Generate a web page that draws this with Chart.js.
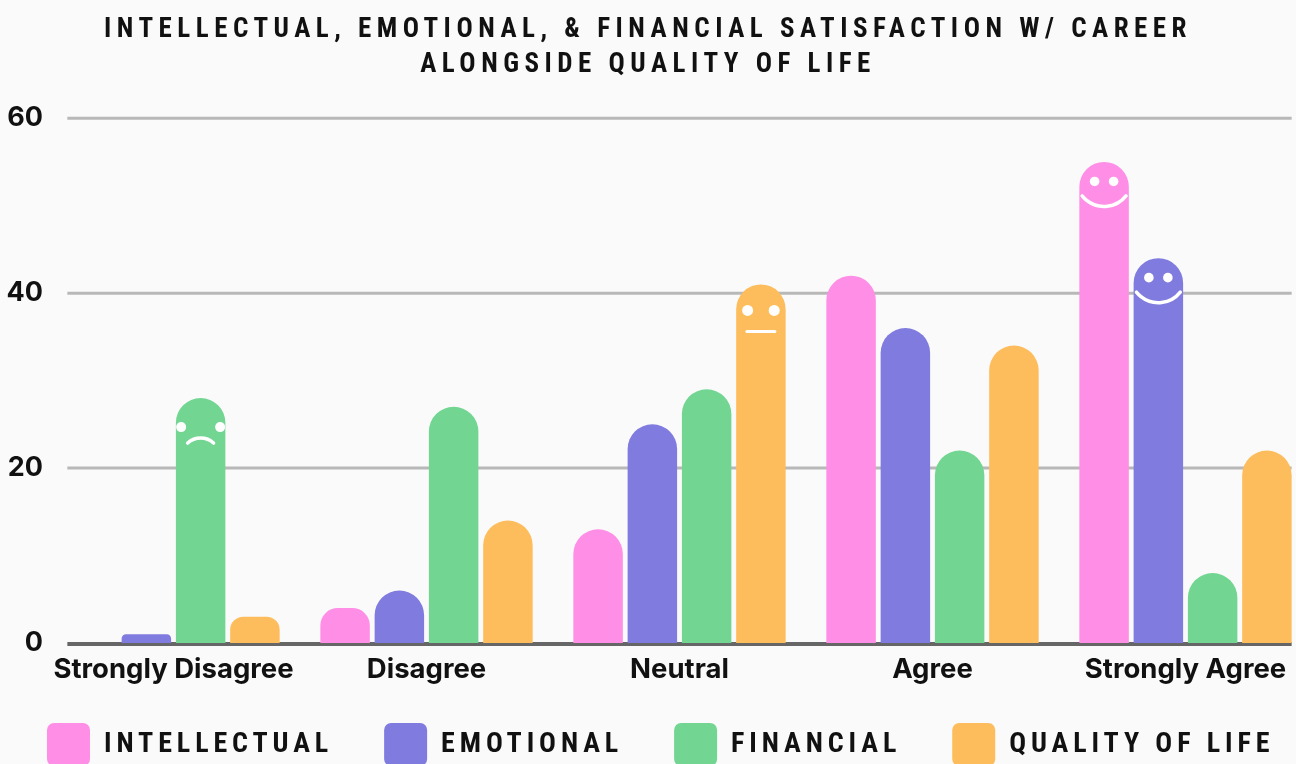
<!DOCTYPE html>
<html>
<head>
<meta charset="utf-8">
<title>Satisfaction w/ Career alongside Quality of Life</title>
<script src="https://cdn.jsdelivr.net/npm/chart.js@4.4.1/dist/chart.umd.min.js"></script>
<style>
  html, body { margin: 0; padding: 0; background: #fafafa; overflow: hidden; }
  #wrap { position: absolute; left: -16px; top: 0; width: 1328px; height: 790px; }
</style>
</head>
<body>
<div id="wrap"><canvas id="chart" width="1328" height="790"></canvas></div>
<script>
const categories = ['Strongly Disagree', 'Disagree', 'Neutral', 'Agree', 'Strongly Agree'];
const seriesNames = ['INTELLECTUAL', 'EMOTIONAL', 'FINANCIAL', 'QUALITY OF LIFE'];
const intellectual = [0, 4, 13, 42, 55];
const emotional = [1, 6, 25, 36, 44];
const financial = [28, 27, 29, 22, 8];
const qualityOfLife = [3, 14, 41, 34, 22];
const yTicks = [0, 20, 40, 60];

const colors = ['#ff8fe6', '#807bde', '#72d692', '#febd5c'];
const titleLines = ['INTELLECTUAL, EMOTIONAL, & FINANCIAL SATISFACTION W/ CAREER', 'ALONGSIDE QUALITY OF LIFE'];

// which bars get a little face drawn on top
const faces = [
  { dataset: 2, index: 0, mood: 'sad' },
  { dataset: 3, index: 2, mood: 'meh' },
  { dataset: 0, index: 4, mood: 'happy' },
  { dataset: 1, index: 4, mood: 'happy' },
];

const spacedFont = '"Liberation Sans Narrow", "Roboto Condensed", "Liberation Sans", sans-serif';
const tickFont = 'Inter, "Noto Sans", sans-serif';
const LEGEND_GAP = 51;

// title + legend are letter spaced, ticks are not
function withSpacing(chart, box, spacing, keepOneRow) {
  if (!box) return;
  ['fit', 'draw'].forEach(fn => {
    if (typeof box[fn] !== 'function') return;
    const orig = box[fn].bind(box);
    box[fn] = function (...args) {
      const ctx = chart.ctx;
      const prev = ctx.letterSpacing;
      ctx.letterSpacing = spacing;
      if (fn === 'fit' && keepOneRow) box.maxWidth = 2000; // don't wrap the legend
      const res = orig(...args);
      ctx.letterSpacing = prev;
      return res;
    };
  });
}

const spacedText = {
  id: 'spacedText',
  afterInit(chart) {
    withSpacing(chart, chart.titleBlock, '5.5px', false);
    withSpacing(chart, chart.legend, '4.9px', true);
  },
  // legend: one row starting under the first bar, a bit closer to the axis labels
  afterLayout(chart) {
    const lg = chart.legend;
    lg.top -= 14;
    lg.bottom -= 14;
    lg.left = chart.chartArea.left - LEGEND_GAP;
    lg.right = chart.width + 1000;
  }
};

const background = {
  id: 'background',
  beforeDraw(chart) {
    const ctx = chart.ctx;
    ctx.save();
    ctx.fillStyle = '#fafafa';
    ctx.fillRect(0, 0, chart.width, chart.height);
    ctx.restore();
  }
};

// grid only spans the bars, not the whole category slots
const gridLines = {
  id: 'gridLines',
  beforeDatasetsDraw(chart) {
    const ctx = chart.ctx;
    const yScale = chart.scales.y;
    const first = chart.getDatasetMeta(0).data[0];
    const last = chart.getDatasetMeta(3).data[categories.length - 1];
    const left = first.x - first.width / 2;
    const right = last.x + last.width / 2;
    ctx.save();
    yScale.ticks.forEach(t => {
      const py = yScale.getPixelForValue(t.value);
      ctx.beginPath();
      if (t.value === 0) {
        ctx.strokeStyle = '#666666';
        ctx.lineWidth = 4;
        ctx.moveTo(left, py + 1);
        ctx.lineTo(right, py + 1);
      } else {
        ctx.strokeStyle = '#b8b8b8';
        ctx.lineWidth = 3;
        ctx.moveTo(left, py);
        ctx.lineTo(right, py);
      }
      ctx.stroke();
    });
    ctx.restore();
  }
};

const faceDrawer = {
  id: 'faceDrawer',
  afterDatasetsDraw(chart) {
    const ctx = chart.ctx;
    ctx.save();
    ctx.fillStyle = '#ffffff';
    ctx.strokeStyle = '#ffffff';
    ctx.lineCap = 'round';
    faces.forEach(f => {
      const bar = chart.getDatasetMeta(f.dataset).data[f.index];
      const { x, y } = bar.getProps(['x', 'y'], true);
      const dot = (dx, dy, r) => {
        ctx.beginPath();
        ctx.arc(x + dx, y + dy, r, 0, Math.PI * 2);
        ctx.fill();
      };
      if (f.mood === 'sad') {
        dot(-19.5, 29, 5);
        dot(19.5, 29, 5);
        ctx.lineWidth = 3.5;
        ctx.beginPath();
        ctx.arc(x, y + 40 + 19.4, 19.4, -Math.PI / 2 - 0.73, -Math.PI / 2 + 0.73);
        ctx.stroke();
      } else if (f.mood === 'meh') {
        dot(-13.3, 26, 5.5);
        dot(13.3, 26, 5.5);
        ctx.lineWidth = 3;
        ctx.beginPath();
        ctx.moveTo(x - 14, y + 47);
        ctx.lineTo(x + 14, y + 47);
        ctx.stroke();
      } else {
        dot(-9.5, 19.5, 4.8);
        dot(9.5, 19.5, 4.8);
        ctx.lineWidth = 3.5;
        ctx.beginPath();
        ctx.arc(x, y + 44.5 - 28, 28, Math.PI / 2 - 0.9, Math.PI / 2 + 0.9);
        ctx.stroke();
      }
    });
    ctx.restore();
  }
};

const seriesData = [intellectual, emotional, financial, qualityOfLife];

new Chart(document.getElementById('chart'), {
  type: 'bar',
  data: {
    labels: categories,
    datasets: seriesData.map((data, i) => ({
      label: seriesNames[i],
      data,
      backgroundColor: colors[i],
      borderWidth: 0,
      borderRadius: 25,
      borderSkipped: 'start',
      categoryPercentage: 0.858,
      barPercentage: 0.912,
    })),
  },
  options: {
    responsive: false,
    animation: false,
    layout: { padding: 0 },
    plugins: {
      title: {
        display: true,
        text: titleLines,
        color: '#111111',
        font: { family: spacedFont, size: 27, weight: 'bold', lineHeight: 1.3 },
        padding: { top: 12.5, bottom: 35.5 },
      },
      legend: {
        position: 'bottom',
        align: 'start',
        labels: {
          color: '#111111',
          font: { family: spacedFont, size: 28, weight: 'bold' },
          boxWidth: 43,
          boxHeight: 43,
          useBorderRadius: true,
          borderRadius: 7,
          padding: LEGEND_GAP,
        },
      },
      tooltip: { enabled: false },
    },
    scales: {
      x: {
        grid: { display: false, drawTicks: false },
        border: { display: false },
        afterFit(scale) {
          scale.height = 43;
        },
        ticks: {
          color: '#111111',
          padding: 10,
          font: { family: tickFont, size: 27.5, weight: 'bold', lineHeight: 1.2 },
        },
      },
      y: {
        min: 0,
        max: 60,
        afterBuildTicks(scale) {
          scale.ticks = yTicks.map(v => ({ value: v }));
        },
        afterFit(scale) {
          scale.width = 63;
        },
        grid: { display: false, drawTicks: false },
        border: { display: false },
        ticks: {
          color: '#111111',
          padding: 4,
          font: { family: tickFont, size: 27, weight: 'bold' },
        },
      },
    },
  },
  plugins: [spacedText, background, gridLines, faceDrawer],
});
</script>
</body>
</html>
